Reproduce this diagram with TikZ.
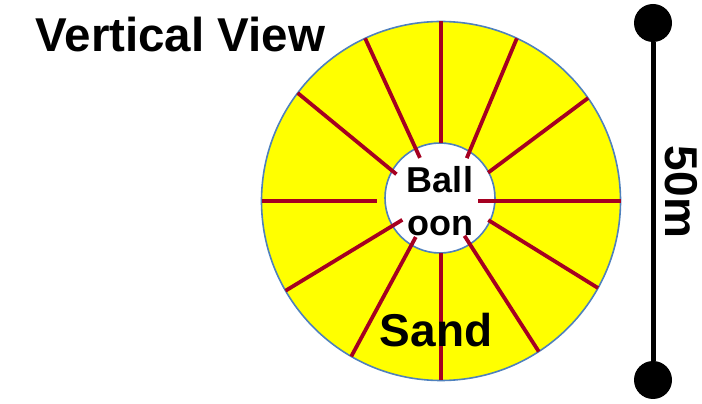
\documentclass[tikz,border=0pt]{standalone}
\usepackage{fontspec}
\setmainfont{Liberation Sans}
\definecolor{sandyellow}{HTML}{FFFF00}
\definecolor{rimblue}{HTML}{4F81BD}
\definecolor{spokered}{HTML}{A50021}
\begin{document}
\begin{tikzpicture}[x=1pt,y=1pt,
    rim/.style={circle,draw=rimblue,line width=1.6pt,inner sep=0pt,outer sep=0pt},
    spoke/.style={spokered,line width=3.8pt},
    dot/.style={circle,fill=black,inner sep=0pt,minimum size=38pt},
    big/.style={font=\fontsize{46}{46}\selectfont\bfseries}]
    \useasboundingbox (0,0) rectangle (702,404);
    \node[rim,fill=sandyellow,minimum size=359pt] (sand) at (441,203) {};
    \node[rim,fill=white,minimum size=110pt] (balloon) at (440,206) {};
    \coordinate (hub) at (441,203);
    \foreach \a/\b/\r in {90/90/58, 65/59/50, 35/31/55, 0/0/37, -29/-22/51, -57/-56/42,
        -90/-90/52, -120/-125/44, -150/-154/43, 180/180/64, 143/149/52, 115/116/48}
        \draw[spoke] (sand.\a) -- ([shift={(\b:\r)}]hub);
    \node[font=\fontsize{36}{43}\selectfont\bfseries,align=center] (ballabel) at (440,203) {Ball\\oon};
    \node[big,anchor=base] (sandlabel) at (436,57) {Sand};
    \node[big,font=\fontsize{47.5}{47.5}\selectfont\bfseries,anchor=base west] (title) at (32,352) {Vertical View};
    % scale bar
    \node[dot] (top) at (653,381) {};
    \node[dot] (bottom) at (653,24) {};
    \draw[line width=5pt] (top) -- (bottom);
    \node[big,rotate=-90] (len) at (681,212) {50m};
\end{tikzpicture}
\end{document}
